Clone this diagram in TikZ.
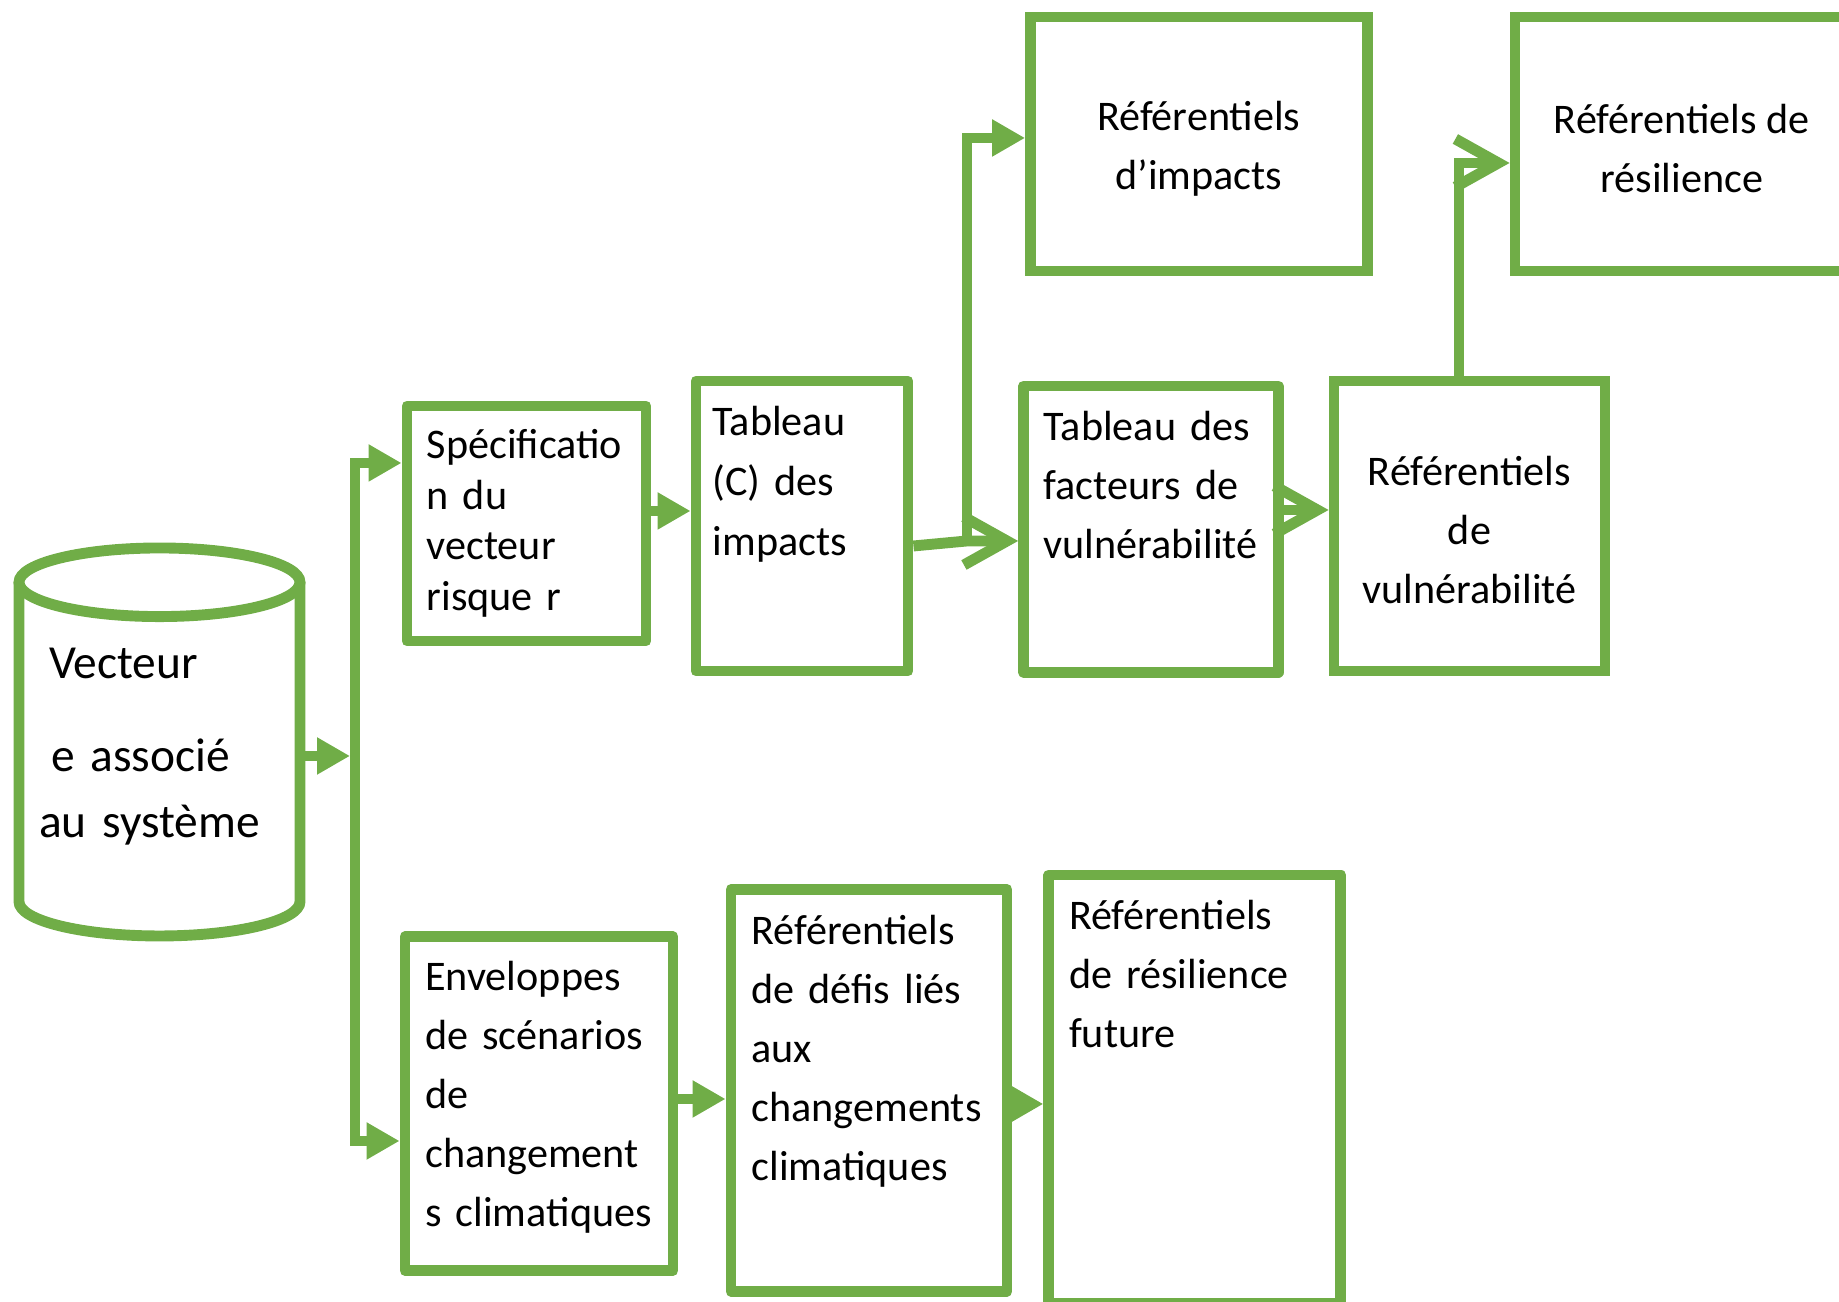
\documentclass[tikz,border=0pt]{standalone}
\usepackage{fontspec}
\setmainfont{Carlito}
\usepackage{tikz}
\usetikzlibrary{arrows.meta}
\definecolor{leaf}{HTML}{70AD47}

\begin{document}
\begin{tikzpicture}[
    x=0.1mm,y=0.1mm,
    line/.style={line width=3.1pt, leaf},
    arr/.style={line, -{Triangle[length=3.3mm, width=3.5mm]}},
    arrow open/.style={line, -{Straight Barb[length=4.3mm, width=4.8mm]}},
    box/.style={draw=leaf, line width=3.1pt, inner sep=0pt, align=center, font=\fontsize{12}{16.8}\selectfont},
    rbox/.style={box, line join=round},
    txt/.style={anchor=base west, inner sep=0pt, text width=40mm, align=left, font=\fontsize{12}{16.8}\selectfont}
    ]
    \path[use as bounding box] (0,0) rectangle (1839,1302);
    \draw[line] (19,719.7) -- (19,400.3) arc[start angle=180, end angle=360, x radius=14.05mm, y radius=3.43mm] -- (300,719.7);
    \draw[line] (159.5,719.7) ellipse [x radius=14.05mm, y radius=3.43mm];
    \node[txt, font=\fontsize{13.5}{18.8}\selectfont] (vect) at (38.5,623) {\hspace*{1mm}Vecteur\\[7.5pt]\hspace*{1.2mm}e associé\\au système};
    \node[rbox, minimum width=23.9mm, minimum height=23.5mm] (spec) at (526.5,778.5) {};
    \node[rbox, minimum width=21.2mm, minimum height=29mm] (tabC) at (802,776) {};
    \node[box, minimum width=33.65mm, minimum height=25.4mm] (refimp) at (1198.8,1158) {\\[-6pt]Référentiels\\d’impacts};
    \node[box, minimum width=33.36mm, minimum height=25.4mm] (refres) at (1681.8,1158) {\\[-6pt]Référentiels de\\résilience};
    \node[rbox, minimum width=25.45mm, minimum height=28.64mm] (tabF) at (1150.8,772.8) {};
    \node[box, minimum width=27.1mm, minimum height=29mm] (refvul) at (1469.5,776) {\\[-6pt]Référentiels\\de\\vulnérabilité};
    \node[rbox, minimum width=26.8mm, minimum height=33.38mm] (env) at (539,198.4) {};
    \node[rbox, minimum width=27.6mm, minimum height=40.18mm] (defis) at (869,211.6) {};
    \node[rbox, minimum width=29.2mm, minimum height=42.8mm] (futur) at (1194.8,213) {};
    \node[txt, font=\fontsize{12}{14.4}\selectfont] (specT) at (426,843.5) {Spécificatio\\n du\\vecteur\\risque r};
    \node[txt, font=\fontsize{12}{17}\selectfont] (tabCT) at (712,866) {Tableau\\(C) des\\impacts};
    \node[txt] (tabFT) at (1043,861.5) {Tableau des\\facteurs de\\vulnérabilité};
    \node[txt] (envT) at (424.6,311.2) {Enveloppes\\de scénarios\\de\\changement\\s climatiques};
    \node[txt] (defisT) at (750.9,357.8) {Référentiels\\de défis liés\\aux\\changements\\climatiques};
    \node[txt] (futurT) at (1068.3,372.8) {Référentiels\\de résilience\\future};
    \coordinate (cylE) at (300,546);
    \coordinate (bus) at (355,546);
    \coordinate (jn) at (967,761);
    \draw[arr, shorten >=0.5mm] (cylE) -- (bus);
    \draw[arr] (bus) |- (spec.west |- 0,839);
    \draw[arr] (bus) |- (env.west |- 0,161);
    \draw[arr] (spec.east |- 0,791) -- (tabC.west |- 0,791);
    \draw[arrow open] (tabC.east |- 0,756) -- (jn) -- (jn -| tabF.west);
    \draw[arr] (jn) |- (refimp.west |- 0,1164);
    \draw[arrow open] (tabF.east |- 0,792) -- (refvul.west |- 0,792);
    \draw[arrow open] (refvul.north -| 1459,0) |- (refres.west |- 0,1139);
    \draw[arr] (env.east |- 0,203) -- (defis.west |- 0,203);
    \draw[arr] (defis.east |- 0,198) -- (futur.west |- 0,198);
\end{tikzpicture}
\end{document}
